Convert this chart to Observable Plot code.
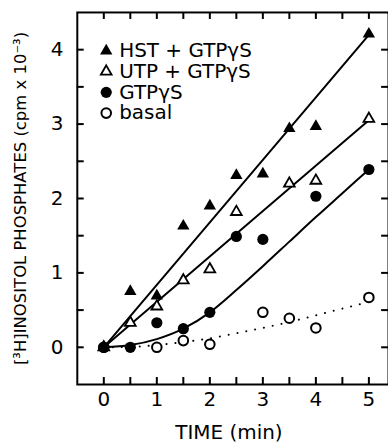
<!DOCTYPE html>
<html>
<head>
<meta charset="utf-8">
<script src="https://cdn.jsdelivr.net/npm/d3@7"></script>
<script src="https://cdn.jsdelivr.net/npm/@observablehq/plot@0.6"></script>
<style>
  html, body { margin: 0; padding: 0; background: #fff; overflow: hidden; }
</style>
</head>
<body>
<div id="chart"></div>
<script>
// Inositol phosphate accumulation over time (cpm x 10^-3)
const hstTime   = [0, 0.5, 1, 1.5, 2, 2.5, 3, 3.5, 4, 5];
const hstValue  = [0, 0.75, 0.69, 1.63, 1.90, 2.31, 2.33, 2.94, 2.97, 4.21];

const utpTime   = [0, 0.5, 1, 1.5, 2, 2.5, 3.5, 4, 5];
const utpValue  = [0, 0.33, 0.55, 0.90, 1.05, 1.82, 2.20, 2.24, 3.07];

const gtpTime   = [0, 0.5, 1, 1.5, 2, 2.5, 3, 4, 5];
const gtpValue  = [0, 0.00, 0.33, 0.25, 0.47, 1.49, 1.45, 2.03, 2.39];

const basalTime  = [0, 1, 1.5, 2, 3, 3.5, 4, 5];
const basalValue = [0, 0.00, 0.09, 0.04, 0.47, 0.39, 0.26, 0.67];

// Fitted curves
const hstFitTime = [0, 5];
const hstFitValue = [0, 4.20];
const utpFitTime = [0, 5];
const utpFitValue = [0, 3.05];
const curveTime = [0, 0.5, 1, 1.5, 2, 2.5, 3, 3.5, 4, 4.5, 5];
const gtpFitValue = [0, 0.03, 0.11, 0.25, 0.47, 0.77, 1.09, 1.42, 1.75, 2.07, 2.39];
const basalFitValue = [0, 0.005, 0.03, 0.07, 0.12, 0.19, 0.26, 0.34, 0.43, 0.52, 0.61];

// Axis ticks and labels
const xTickValues = [0, 0.5, 1, 1.5, 2, 2.5, 3, 3.5, 4, 4.5, 5];
const yTickValues = [0, 0.5, 1, 1.5, 2, 2.5, 3, 3.5, 4];
const xLabelValues = [0, 1, 2, 3, 4, 5];
const yLabelValues = [0, 1, 2, 3, 4];
const seriesNames = ["HST + GTPγS", "UTP + GTPγS", "GTPγS", "basal"];
const xTitle = "TIME (min)";
const yTitle = "[³H]INOSITOL PHOSPHATES (cpm x 10⁻³)";

// Layout
const W = 389, H = 448;
const mL = 77, mR = 0, mT = 12, mB = 63;
const xDomain = [-0.5, 5.37];
const yDomain = [-0.5, 4.5];
// tick lengths expressed in axis units (about 7 px each)
const xTickLen = 0.13;
const yTickLen = 0.094;
const FONT = "'DejaVu Sans', 'Liberation Sans', sans-serif";

const rows = (t, v) => t.map((time, i) => ({time, value: v[i]}));

// Symbol styles for each series (legend + data)
const symbolStyles = [
  {symbol: "triangle", r: 4.6, fill: "black", stroke: "none"},
  {symbol: "triangle", r: 4.0, fill: "white", stroke: "black", strokeWidth: 1.8},
  {symbol: "circle", r: 5.6, fill: "black", stroke: "none"},
  {symbol: "circle", r: 4.8, fill: "white", stroke: "black", strokeWidth: 2}
];
const seriesData = [
  rows(hstTime, hstValue),
  rows(utpTime, utpValue),
  rows(gtpTime, gtpValue),
  rows(basalTime, basalValue)
];

const legendMarks = seriesNames.flatMap((name, i) => [
  Plot.dot([name], {frameAnchor: "top-left", dx: 29, dy: 38.5 + i * 20.8, ...symbolStyles[i]}),
  Plot.text([name], {frameAnchor: "top-left", dx: 42, dy: 38.5 + i * 20.8,
    textAnchor: "start", lineAnchor: "middle", fontSize: 20, fill: "black"})
]);

// short inward ticks on all four sides of the frame
const tickLine = {stroke: "black", strokeWidth: 2};
const innerTicks = [
  Plot.ruleX(xTickValues, {x: d => d, y1: yDomain[0], y2: yDomain[0] + yTickLen, ...tickLine}),
  Plot.ruleX(xTickValues, {x: d => d, y1: yDomain[1], y2: yDomain[1] - yTickLen, ...tickLine}),
  Plot.ruleY(yTickValues, {y: d => d, x1: xDomain[0], x2: xDomain[0] + xTickLen, ...tickLine}),
  Plot.ruleY(yTickValues, {y: d => d, x1: xDomain[1], x2: xDomain[1] - xTickLen, ...tickLine})
];

const chart = Plot.plot({
  width: W,
  height: H,
  marginLeft: mL,
  marginRight: mR,
  marginTop: mT,
  marginBottom: mB,
  x: {domain: xDomain, axis: null},
  y: {domain: yDomain, axis: null},
  style: {fontFamily: FONT},
  marks: [
    Plot.frame({stroke: "black", strokeWidth: 2, fill: "none"}),
    ...innerTicks,
    Plot.axisX({ticks: xLabelValues, anchor: "bottom", tickSize: 0, tickPadding: 7, fontSize: 20,
      tickFormat: d3.format("d"), label: null}),
    Plot.axisY({ticks: yLabelValues, anchor: "left", tickSize: 0, tickPadding: 14, fontSize: 20,
      tickFormat: d3.format("d"), label: null}),
    Plot.text([xTitle], {frameAnchor: "bottom", dx: -4, dy: 48, lineAnchor: "middle",
      textAnchor: "middle", fontSize: 20, fill: "black"}),
    Plot.text([yTitle], {frameAnchor: "left", dx: -57, rotate: -90, lineAnchor: "middle",
      textAnchor: "middle", fontSize: 16.5, fill: "black"}),
    // fitted lines
    Plot.line(rows(hstFitTime, hstFitValue), {x: "time", y: "value", stroke: "black", strokeWidth: 2}),
    Plot.line(rows(utpFitTime, utpFitValue), {x: "time", y: "value", stroke: "black", strokeWidth: 2}),
    Plot.line(rows(curveTime, gtpFitValue), {x: "time", y: "value", curve: "monotone-x", stroke: "black", strokeWidth: 2}),
    Plot.line(rows(curveTime, basalFitValue), {x: "time", y: "value", curve: "monotone-x", stroke: "black",
      strokeWidth: 2, strokeDasharray: "0.1,8.9", strokeLinecap: "round"}),
    // data points
    ...[3, 2, 1, 0].map(i => Plot.dot(seriesData[i], {x: "time", y: "value", ...symbolStyles[i]})),
    ...legendMarks
  ]
});

document.getElementById("chart").appendChild(chart);
</script>
</body>
</html>
